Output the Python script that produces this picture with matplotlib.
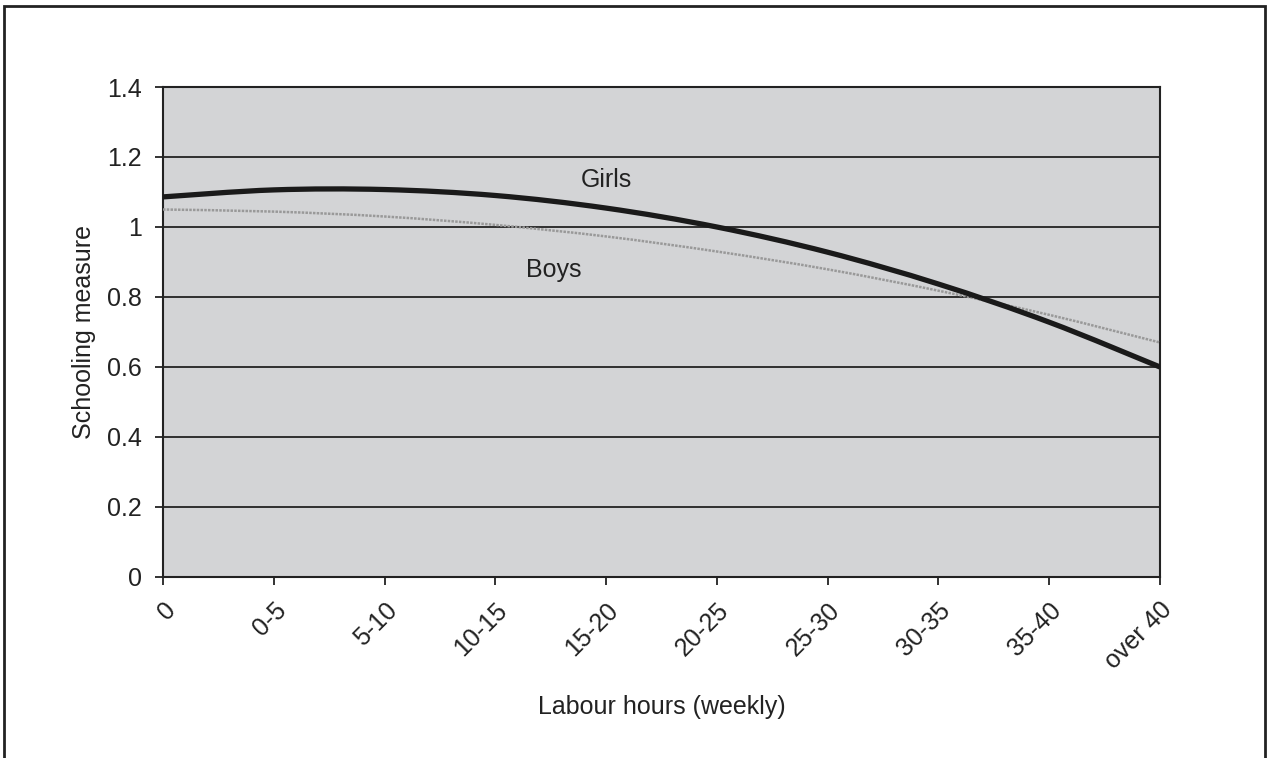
import matplotlib
matplotlib.use("Agg")
import matplotlib.pyplot as plt
from matplotlib.patches import Rectangle, PathPatch
from matplotlib.path import Path

# Weekly labour-hour bands and fitted schooling measure by sex
categories = ["0", "0-5", "5-10", "10-15", "15-20", "20-25",
              "25-30", "30-35", "35-40", "over 40"]
girls = [1.086, 1.106, 1.107, 1.090, 1.054, 1.000, 0.928, 0.837, 0.728, 0.600]
boys = [1.050, 1.044, 1.030, 1.006, 0.973, 0.930, 0.879, 0.818, 0.749, 0.670]
y_ticks = [0, 0.2, 0.4, 0.6, 0.8, 1.0, 1.2, 1.4]
y_tick_labels = ["0", "0.2", "0.4", "0.6", "0.8", "1", "1.2", "1.4"]

plt.rcParams["font.family"] = ["Liberation Sans", "DejaVu Sans"]
TXT = "#222222"
FS = 18
TICK_FS = 18


def smooth_path(xs, ys, tension=1 / 6):
    """Spreadsheet-style smoothed line: cubic Bezier segments through each point."""
    verts = [(xs[0], ys[0])]
    codes = [Path.MOVETO]
    n = len(xs)
    for i in range(n - 1):
        x0, y0 = (xs[i - 1], ys[i - 1]) if i > 0 else (xs[i], ys[i])
        x1, y1 = xs[i], ys[i]
        x2, y2 = xs[i + 1], ys[i + 1]
        x3, y3 = (xs[i + 2], ys[i + 2]) if i + 2 < n else (x2, y2)
        c1 = (x1 + (x2 - x0) * tension, y1 + (y2 - y0) * tension)
        c2 = (x2 - (x3 - x1) * tension, y2 - (y3 - y1) * tension)
        verts += [c1, c2, (x2, y2)]
        codes += [Path.CURVE4] * 3
    return Path(verts, codes)


fig = plt.figure(figsize=(12.7, 7.58), dpi=100)
fig.patch.set_facecolor("white")

# outer frame
fig.add_artist(Rectangle((4 / 1270, -0.01), 1261 / 1270, 1 - 6 / 758 + 0.01,
                         transform=fig.transFigure, fill=False,
                         edgecolor=TXT, linewidth=2))

ax = fig.add_axes([163 / 1270, 1 - 577 / 758, 997 / 1270, 490 / 758])
ax.set_facecolor("#d3d4d6")

x = list(range(len(categories)))
ax.add_patch(PathPatch(smooth_path(x, boys), fill=False, edgecolor="#999999",
                       linewidth=1.8, linestyle=(0, (1, 0.5)), zorder=3))
ax.add_patch(PathPatch(smooth_path(x, girls), fill=False, edgecolor="#1a1a1a",
                       linewidth=3.8, capstyle="butt", zorder=4))

ax.set_xlim(0, len(categories) - 1)
ax.set_ylim(0, 1.4)
ax.set_yticks(y_ticks)
ax.set_yticklabels(y_tick_labels, fontsize=TICK_FS, color=TXT)
ax.set_xticks(x)
ax.set_xticklabels(categories, rotation=45, ha="right", va="top",
                   rotation_mode="anchor", fontsize=TICK_FS, color=TXT)

ax.grid(axis="y", color=TXT, linewidth=1.3)
ax.set_axisbelow(True)
for s in ax.spines.values():
    s.set_color(TXT)
    s.set_linewidth(1.5)
ax.tick_params(axis="both", direction="out", length=6, width=1.3, color=TXT)
ax.tick_params(axis="x", pad=9)
ax.tick_params(axis="y", pad=9)

ax.set_ylabel("Schooling measure", fontsize=FS, color=TXT, labelpad=8)
ax.set_xlabel("Labour hours (weekly)", fontsize=FS, color=TXT, labelpad=15)

ax.text(4.0, 1.135, "Girls", fontsize=FS, color=TXT, ha="center", va="center")
ax.text(3.53, 0.877, "Boys", fontsize=FS, color=TXT, ha="center", va="center")

fig.savefig("out.png", dpi=100)
